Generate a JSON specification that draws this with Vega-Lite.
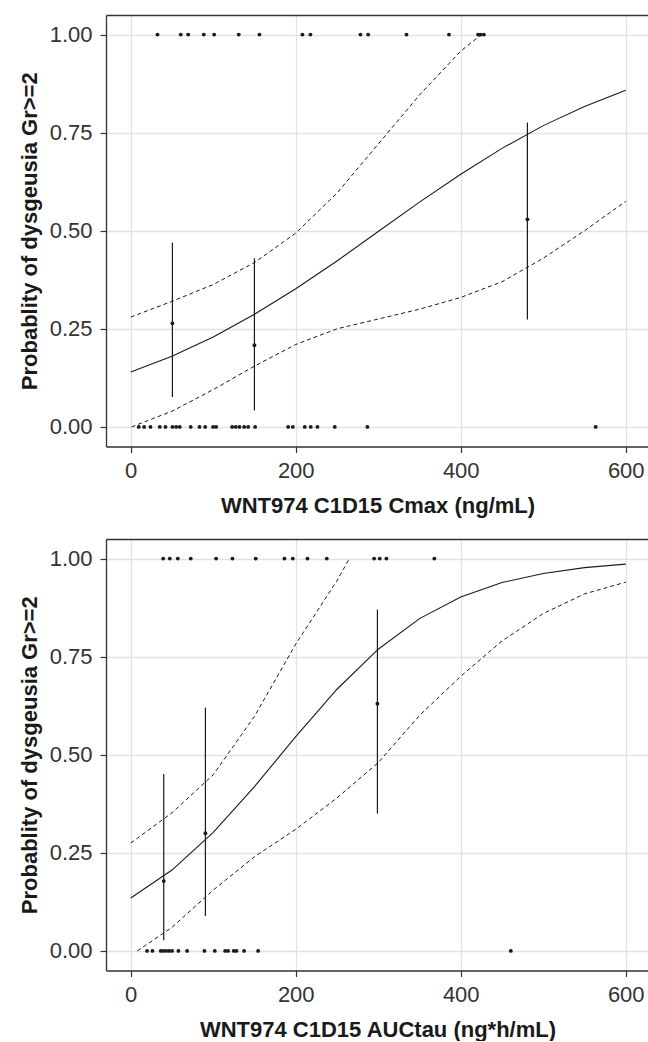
{
  "$schema": "https://vega.github.io/schema/vega-lite/v6.json",
  "padding": {"left": 18, "top": 15, "right": 0, "bottom": 0},
  "background": "white",
  "spacing": 22,
  "config": {
    "font": "Liberation Sans",
    "view": {"stroke": null},
    "axis": {
      "labelFont": "Liberation Sans", "titleFont": "Liberation Sans",
      "labelFontSize": 22, "labelColor": "#333333",
      "titleFontSize": 22, "titleFontWeight": "bold", "titleColor": "#1a1a1a",
      "domainColor": "#333333", "domainWidth": 1.3,
      "tickColor": "#333333", "tickSize": 6, "tickWidth": 1.2,
      "gridColor": "#e2e2e2", "gridWidth": 1.3,
      "labelPadding": 8
    },
    "axisX": {"titlePadding": 14},
    "axisY": {"titlePadding": 8}
  },
  "datasets": {
    "obs1": [
      {"x": 32.4, "y": 1}, {"x": 60.6, "y": 1}, {"x": 69.6, "y": 1}, {"x": 88.5, "y": 1}, {"x": 101.1, "y": 1},
      {"x": 130.9, "y": 1}, {"x": 156, "y": 1}, {"x": 208.1, "y": 1}, {"x": 217.8, "y": 1}, {"x": 278.4, "y": 1},
      {"x": 287.8, "y": 1}, {"x": 334.2, "y": 1}, {"x": 385.7, "y": 1}, {"x": 421, "y": 1}, {"x": 424, "y": 1}, {"x": 428, "y": 1},
      {"x": 9.7, "y": 0}, {"x": 16.2, "y": 0}, {"x": 23.9, "y": 0}, {"x": 35.2, "y": 0}, {"x": 42.1, "y": 0},
      {"x": 50.5, "y": 0}, {"x": 55, "y": 0}, {"x": 59.4, "y": 0}, {"x": 72.7, "y": 0}, {"x": 83.3, "y": 0},
      {"x": 90.2, "y": 0}, {"x": 99.8, "y": 0}, {"x": 103.5, "y": 0}, {"x": 122.9, "y": 0}, {"x": 127.3, "y": 0},
      {"x": 131.8, "y": 0}, {"x": 137.4, "y": 0}, {"x": 142.3, "y": 0}, {"x": 150.8, "y": 0}, {"x": 190.8, "y": 0},
      {"x": 196.4, "y": 0}, {"x": 210.9, "y": 0}, {"x": 218.2, "y": 0}, {"x": 226.3, "y": 0}, {"x": 247.3, "y": 0},
      {"x": 286.9, "y": 0}, {"x": 563.6, "y": 0}
    ],
    "fit1": [
      {"x": 0, "y": 0.14}, {"x": 50, "y": 0.18}, {"x": 100, "y": 0.229}, {"x": 150, "y": 0.287}, {"x": 200, "y": 0.352},
      {"x": 250, "y": 0.423}, {"x": 300, "y": 0.498}, {"x": 350, "y": 0.573}, {"x": 400, "y": 0.644}, {"x": 450, "y": 0.71},
      {"x": 500, "y": 0.768}, {"x": 550, "y": 0.817}, {"x": 600, "y": 0.858}
    ],
    "ci1": [
      {"x": 1, "y": 0.0, "b": "lower"}, {"x": 50, "y": 0.04, "b": "lower"}, {"x": 100, "y": 0.095, "b": "lower"},
      {"x": 150, "y": 0.155, "b": "lower"}, {"x": 200, "y": 0.21, "b": "lower"}, {"x": 250, "y": 0.25, "b": "lower"},
      {"x": 300, "y": 0.275, "b": "lower"}, {"x": 350, "y": 0.3, "b": "lower"}, {"x": 400, "y": 0.33, "b": "lower"},
      {"x": 450, "y": 0.37, "b": "lower"}, {"x": 500, "y": 0.43, "b": "lower"}, {"x": 550, "y": 0.5, "b": "lower"},
      {"x": 600, "y": 0.575, "b": "lower"},
      {"x": 0, "y": 0.28, "b": "upper"}, {"x": 50, "y": 0.32, "b": "upper"}, {"x": 100, "y": 0.363, "b": "upper"},
      {"x": 150, "y": 0.419, "b": "upper"}, {"x": 200, "y": 0.494, "b": "upper"}, {"x": 250, "y": 0.596, "b": "upper"},
      {"x": 300, "y": 0.721, "b": "upper"}, {"x": 350, "y": 0.846, "b": "upper"}, {"x": 400, "y": 0.958, "b": "upper"},
      {"x": 425, "y": 1.0, "b": "upper"}
    ],
    "bars1": [
      {"x": 50.5, "y": 0.264, "lo": 0.076, "hi": 0.47},
      {"x": 149.9, "y": 0.208, "lo": 0.042, "hi": 0.43},
      {"x": 480.8, "y": 0.529, "lo": 0.274, "hi": 0.776}
    ],
    "obs2": [
      {"x": 39.3, "y": 1}, {"x": 47.3, "y": 1}, {"x": 57, "y": 1}, {"x": 72.7, "y": 1}, {"x": 103.5, "y": 1},
      {"x": 123.3, "y": 1}, {"x": 151.5, "y": 1}, {"x": 186.3, "y": 1}, {"x": 196.4, "y": 1}, {"x": 214.2, "y": 1},
      {"x": 237.6, "y": 1}, {"x": 295, "y": 1}, {"x": 301.8, "y": 1}, {"x": 309.9, "y": 1}, {"x": 368, "y": 1},
      {"x": 19.8, "y": 0}, {"x": 26.3, "y": 0}, {"x": 36.4, "y": 0}, {"x": 39.6, "y": 0}, {"x": 42.9, "y": 0},
      {"x": 46.5, "y": 0}, {"x": 50.1, "y": 0}, {"x": 57.8, "y": 0}, {"x": 68.3, "y": 0}, {"x": 89.3, "y": 0},
      {"x": 101.8, "y": 0}, {"x": 114.4, "y": 0}, {"x": 118, "y": 0}, {"x": 124.9, "y": 0}, {"x": 128.1, "y": 0},
      {"x": 137.4, "y": 0}, {"x": 154.4, "y": 0}, {"x": 460.7, "y": 0}
    ],
    "fit2": [
      {"x": 0, "y": 0.135}, {"x": 50, "y": 0.206}, {"x": 100, "y": 0.302}, {"x": 150, "y": 0.419}, {"x": 200, "y": 0.546},
      {"x": 250, "y": 0.667}, {"x": 300, "y": 0.769}, {"x": 350, "y": 0.847}, {"x": 400, "y": 0.902}, {"x": 450, "y": 0.939},
      {"x": 500, "y": 0.962}, {"x": 550, "y": 0.977}, {"x": 600, "y": 0.986}
    ],
    "ci2": [
      {"x": 8, "y": 0.0, "b": "lower"}, {"x": 50, "y": 0.06, "b": "lower"}, {"x": 100, "y": 0.155, "b": "lower"},
      {"x": 150, "y": 0.24, "b": "lower"}, {"x": 200, "y": 0.31, "b": "lower"}, {"x": 250, "y": 0.39, "b": "lower"},
      {"x": 300, "y": 0.48, "b": "lower"}, {"x": 350, "y": 0.6, "b": "lower"}, {"x": 400, "y": 0.7, "b": "lower"},
      {"x": 450, "y": 0.79, "b": "lower"}, {"x": 500, "y": 0.86, "b": "lower"}, {"x": 550, "y": 0.91, "b": "lower"},
      {"x": 600, "y": 0.94, "b": "lower"},
      {"x": 0, "y": 0.275, "b": "upper"}, {"x": 50, "y": 0.352, "b": "upper"}, {"x": 100, "y": 0.449, "b": "upper"},
      {"x": 150, "y": 0.598, "b": "upper"}, {"x": 200, "y": 0.782, "b": "upper"}, {"x": 250, "y": 0.944, "b": "upper"},
      {"x": 265, "y": 1.0, "b": "upper"}
    ],
    "bars2": [
      {"x": 40, "y": 0.178, "lo": 0.027, "hi": 0.451},
      {"x": 90.5, "y": 0.3, "lo": 0.089, "hi": 0.62},
      {"x": 299, "y": 0.63, "lo": 0.35, "hi": 0.87}
    ]
  },
  "vconcat": [
    {
      "width": 543, "height": 431.5,
      "resolve": {"axis": {"x": "independent"}},
      "layer": [
        {
          "data": {"name": "obs1"},
          "mark": {"type": "point", "filled": true, "size": 15, "color": "#1a1a1a", "opacity": 1},
          "encoding": {
            "x": {"field": "x", "type": "quantitative", "scale": {"domain": [-30, 628.2], "nice": false, "zero": false},
                  "axis": {"orient": "bottom", "values": [0, 200, 400, 600], "title": "WNT974 C1D15 Cmax (ng/mL)"}},
            "y": {"field": "y", "type": "quantitative", "scale": {"domain": [-0.05, 1.05], "nice": false, "zero": false},
                  "axis": {"values": [0, 0.25, 0.5, 0.75, 1], "format": ".2f", "title": "Probablity of dysgeusia Gr>=2"}}
          }
        },
        {
          "data": {"name": "fit1"},
          "mark": {"type": "line", "color": "#1a1a1a", "strokeWidth": 1.1},
          "encoding": {
            "x": {"field": "x", "type": "quantitative", "axis": {"orient": "top", "labels": false, "ticks": false, "grid": false, "title": null, "domain": true}},
            "y": {"field": "y", "type": "quantitative"}
          }
        },
        {
          "data": {"name": "ci1"},
          "mark": {"type": "line", "color": "#1a1a1a", "strokeWidth": 1, "strokeDash": [4, 3]},
          "encoding": {
            "x": {"field": "x", "type": "quantitative", "axis": null},
            "y": {"field": "y", "type": "quantitative"},
            "detail": {"field": "b"}
          }
        },
        {
          "data": {"name": "bars1"},
          "mark": {"type": "rule", "color": "#1a1a1a", "strokeWidth": 1.2},
          "encoding": {
            "x": {"field": "x", "type": "quantitative", "axis": null},
            "y": {"field": "lo", "type": "quantitative"},
            "y2": {"field": "hi"}
          }
        },
        {
          "data": {"name": "bars1"},
          "mark": {"type": "point", "filled": true, "size": 15, "color": "#1a1a1a", "opacity": 1},
          "encoding": {
            "x": {"field": "x", "type": "quantitative", "axis": null},
            "y": {"field": "y", "type": "quantitative"}
          }
        }
      ]
    },
    {
      "width": 543, "height": 431.5,
      "resolve": {"axis": {"x": "independent"}},
      "layer": [
        {
          "data": {"name": "obs2"},
          "mark": {"type": "point", "filled": true, "size": 15, "color": "#1a1a1a", "opacity": 1},
          "encoding": {
            "x": {"field": "x", "type": "quantitative", "scale": {"domain": [-30, 628.2], "nice": false, "zero": false},
                  "axis": {"orient": "bottom", "values": [0, 200, 400, 600], "title": "WNT974 C1D15 AUCtau (ng*h/mL)"}},
            "y": {"field": "y", "type": "quantitative", "scale": {"domain": [-0.05, 1.05], "nice": false, "zero": false},
                  "axis": {"values": [0, 0.25, 0.5, 0.75, 1], "format": ".2f", "title": "Probablity of dysgeusia Gr>=2"}}
          }
        },
        {
          "data": {"name": "fit2"},
          "mark": {"type": "line", "color": "#1a1a1a", "strokeWidth": 1.1},
          "encoding": {
            "x": {"field": "x", "type": "quantitative", "axis": {"orient": "top", "labels": false, "ticks": false, "grid": false, "title": null, "domain": true}},
            "y": {"field": "y", "type": "quantitative"}
          }
        },
        {
          "data": {"name": "ci2"},
          "mark": {"type": "line", "color": "#1a1a1a", "strokeWidth": 1, "strokeDash": [4, 3]},
          "encoding": {
            "x": {"field": "x", "type": "quantitative", "axis": null},
            "y": {"field": "y", "type": "quantitative"},
            "detail": {"field": "b"}
          }
        },
        {
          "data": {"name": "bars2"},
          "mark": {"type": "rule", "color": "#1a1a1a", "strokeWidth": 1.2},
          "encoding": {
            "x": {"field": "x", "type": "quantitative", "axis": null},
            "y": {"field": "lo", "type": "quantitative"},
            "y2": {"field": "hi"}
          }
        },
        {
          "data": {"name": "bars2"},
          "mark": {"type": "point", "filled": true, "size": 15, "color": "#1a1a1a", "opacity": 1},
          "encoding": {
            "x": {"field": "x", "type": "quantitative", "axis": null},
            "y": {"field": "y", "type": "quantitative"}
          }
        }
      ]
    }
  ]
}
